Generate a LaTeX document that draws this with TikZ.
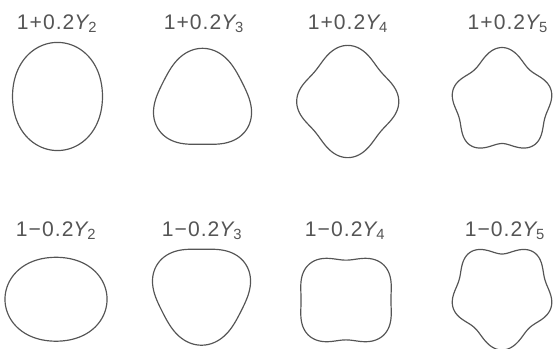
\documentclass[tikz,border=0pt]{standalone}
\usepackage{fontspec}
\newfontfamily\labelfont{Liberation Sans}[LetterSpace=5]
\definecolor{Graphite}{HTML}{555555}
\usepackage{tikz}
\tikzset{declare function={
    Ytwo(\c)=0.6308*(3*\c*\c-1)/2;
    Ythree(\c)=0.7464*(5*\c*\c*\c-3*\c)/2;
    Yfour(\c)=0.8463*(35*\c*\c*\c*\c-30*\c*\c+3)/8;
    Yfive(\c)=0.9356*(63*\c*\c*\c*\c*\c-70*\c*\c*\c+15*\c)/8;
}}
\newcommand{\Ysub}[1]{\textit{Y}\kern-0.12em\textsubscript{#1}}

\begin{document}
\begin{tikzpicture}[
    outline/.style={draw=Graphite, line width=0.7pt},
    caption/.style={text=Graphite, font=\labelfont\fontsize{12.5}{14}\selectfont}]
    \useasboundingbox (0,0) rectangle (11.52,7.25);

    % Plus sign row
    \node[caption] (lp2) at (1.19,6.76) {1+0.2\Ysub{2}};
    \node[caption] (lp3) at (4.25,6.76) {1+0.2\Ysub{3}};
    \node[caption] (lp4) at (7.25,6.76) {1+0.2\Ysub{4}};
    \node[caption] (lp5) at (10.58,6.76) {1+0.2\Ysub{5}};
    \draw[outline,shift={(1.198,5.240)}] plot[domain=0:360,samples=181,variable=\t]
        ({(1+0.2*Ytwo(cos(\t)))*sin(\t)},{(1+0.2*Ytwo(cos(\t)))*cos(\t)}) -- cycle;
    \draw[outline,shift={(4.219,5.094)}] plot[domain=0:360,samples=181,variable=\t]
        ({(1+0.2*Ythree(cos(\t)))*sin(\t)},{(1+0.2*Ythree(cos(\t)))*cos(\t)}) -- cycle;
    \draw[outline,shift={(7.244,5.135)}] plot[domain=0:360,samples=181,variable=\t]
        ({(1+0.2*Yfour(cos(\t)))*sin(\t)},{(1+0.2*Yfour(cos(\t)))*cos(\t)}) -- cycle;
    \draw[outline,shift={(10.458,5.073)}] plot[domain=0:360,samples=181,variable=\t]
        ({(1+0.2*Yfive(cos(\t)))*sin(\t)},{(1+0.2*Yfive(cos(\t)))*cos(\t)}) -- cycle;

    % Minus sign row
    \node[caption] (lm2) at (1.17,2.44) {1−0.2\Ysub{2}};
    \node[caption] (lm3) at (4.21,2.44) {1−0.2\Ysub{3}};
    \node[caption] (lm4) at (7.19,2.44) {1−0.2\Ysub{4}};
    \node[caption] (lm5) at (10.52,2.44) {1−0.2\Ysub{5}};
    \draw[outline,shift={(1.167,1.016)}] plot[domain=0:360,samples=181,variable=\t]
        ({(1-0.2*Ytwo(cos(\t)))*sin(\t)},{(1-0.2*Ytwo(cos(\t)))*cos(\t)}) -- cycle;
    \draw[outline,shift={(4.198,1.208)}] plot[domain=0:360,samples=181,variable=\t]
        ({(1-0.2*Ythree(cos(\t)))*sin(\t)},{(1-0.2*Ythree(cos(\t)))*cos(\t)}) -- cycle;
    \draw[outline,shift={(7.208,1.0)}] plot[domain=0:360,samples=181,variable=\t]
        ({(1-0.2*Yfour(cos(\t)))*sin(\t)},{(1-0.2*Yfour(cos(\t)))*cos(\t)}) -- cycle;
    \draw[outline,shift={(10.458,1.146)}] plot[domain=0:360,samples=181,variable=\t]
        ({(1-0.2*Yfive(cos(\t)))*sin(\t)},{(1-0.2*Yfive(cos(\t)))*cos(\t)}) -- cycle;
\end{tikzpicture}
\end{document}
